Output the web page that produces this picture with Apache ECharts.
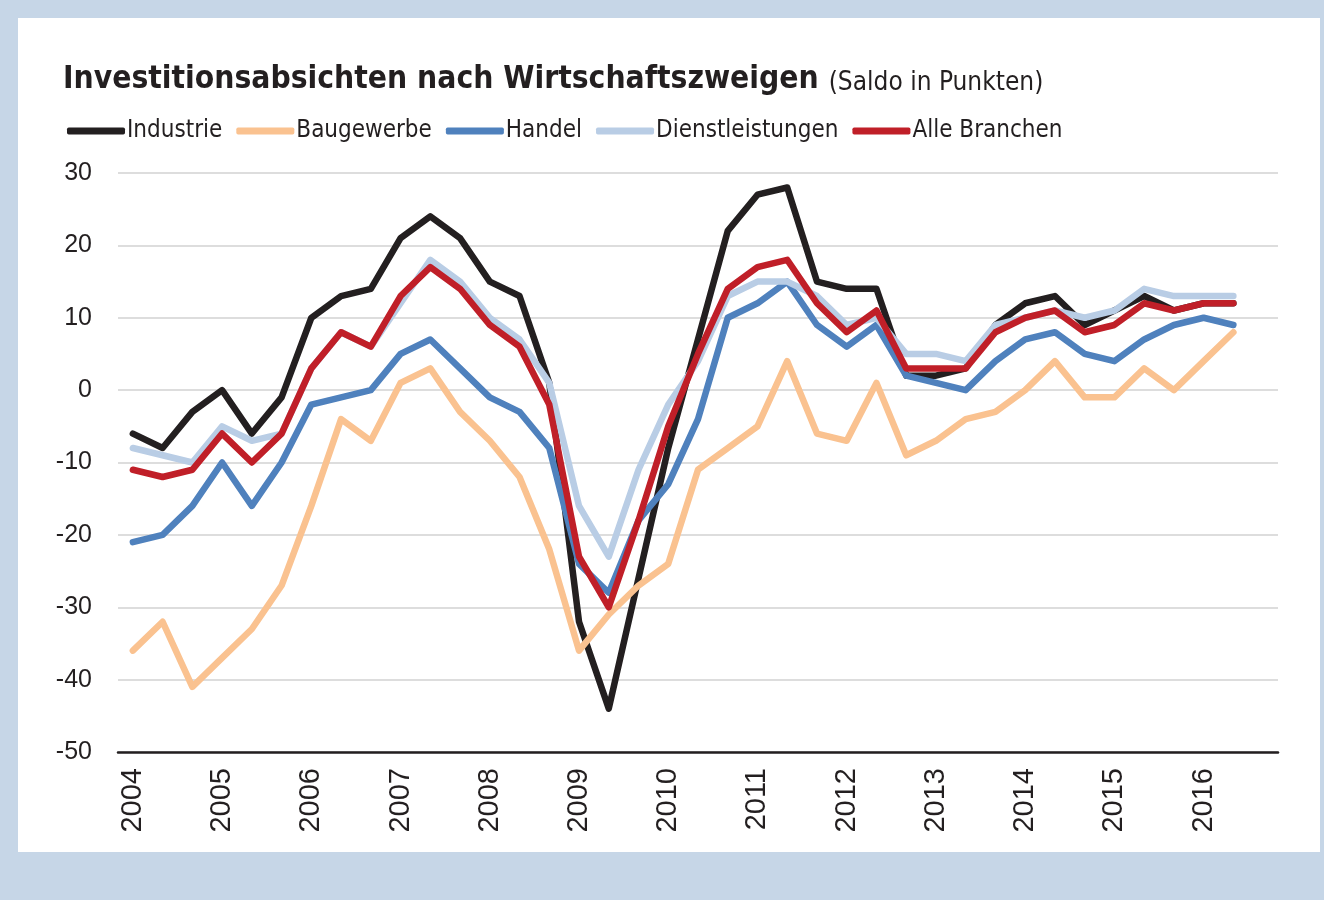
<!DOCTYPE html>
<html>
<head>
<meta charset="utf-8">
<title>Investitionsabsichten nach Wirtschaftszweigen</title>
<script src="https://cdn.jsdelivr.net/npm/echarts@6/dist/echarts.min.js"></script>
<style>
html, body {
    margin: 0;
    padding: 0;
    background: #c6d6e7;
}
#chart {
    position: absolute;
    left: 18px;
    top: 18px;
    width: 1302px;
    height: 834px;
    background: #ffffff;
}
</style>
</head>
<body>
<div id="chart"></div>
<script>
// drei Umfragen pro Jahr, 2004 bis 2016
const years = [2004, 2005, 2006, 2007, 2008, 2009, 2010, 2011, 2012, 2013, 2014, 2015, 2016];
const waves = ['I', 'II', 'III'];

const industrie = [-6, -8, -3, 0, -6, -1, 10, 13, 14, 21, 24, 21, 15, 13, 1, -32, -44, -26, -8, 7, 22, 27, 28, 15, 14, 14, 2, 2, 3, 9, 12, 13, 9, 11, 13, 11, 12, 12];
const baugewerbe = [-36, -32, -41, -37, -33, -27, -16, -4, -7, 1, 3, -3, -7, -12, -22, -36, -31, -27, -24, -11, -8, -5, 4, -6, -7, 1, -9, -7, -4, -3, 0, 4, -1, -1, 3, 0, 4, 8];
const handel = [-21, -20, -16, -10, -16, -10, -2, -1, 0, 5, 7, 3, -1, -3, -8, -24, -28, -18, -13, -4, 10, 12, 15, 9, 6, 9, 2, 1, 0, 4, 7, 8, 5, 4, 7, 9, 10, 9];
const dienstleistungen = [-8, -9, -10, -5, -7, -6, 3, 8, 6, 12, 18, 15, 10, 7, 1, -16, -23, -11, -2, 4, 13, 15, 15, 13, 9, 10, 5, 5, 4, 9, 10, 11, 10, 11, 14, 13, 13, 13];
const alleBranchen = [-11, -12, -11, -6, -10, -6, 3, 8, 6, 13, 17, 14, 9, 6, -2, -23, -30, -18, -5, 5, 14, 17, 18, 12, 8, 11, 3, 3, 3, 8, 10, 11, 8, 9, 12, 11, 12, 12];

const yTicks = [-50, -40, -30, -20, -10, 0, 10, 20, 30];

let categories = [];
years.forEach(y => {
    waves.forEach(w => categories.push(y + '/' + w));
});

const narrow = "'Liberation Sans Narrow', 'DejaVu Sans Condensed', 'Roboto', sans-serif";
const textColor = '#231f20';

let myChart = echarts.init(document.getElementById('chart'));

function line(name, data, color) {
    return {
        name: name,
        type: 'line',
        data: data,
        symbol: 'none',
        showSymbol: false,
        smooth: false,
        lineStyle: { color: color, width: 6.5, join: 'round', cap: 'round' },
        itemStyle: { color: color }
    };
}

let option = {
    animation: false,
    title: {
        left: 40,
        top: 33,
        text: '{a|Investitionsabsichten nach Wirtschaftszweigen}  {b|(Saldo in Punkten)}',
        textStyle: {
            rich: {
                a: { fontFamily: narrow, fontWeight: 'bold', fontSize: 31.5, color: textColor, lineHeight: 40, verticalAlign: 'bottom' },
                b: { fontFamily: narrow, fontWeight: 'normal', fontSize: 26, color: textColor, lineHeight: 40, verticalAlign: 'bottom' }
            }
        }
    },
    legend: {
        left: 44,
        top: 96,
        icon: 'roundRect',
        itemWidth: 58,
        itemHeight: 7,
        itemGap: 14,
        textStyle: { fontFamily: narrow, fontSize: 24, color: textColor, padding: [0, 0, 0, -3] },
        data: ['Industrie', 'Baugewerbe', 'Handel', 'Dienstleistungen', 'Alle Branchen']
    },
    grid: {
        left: 100,
        right: 42,
        top: 155,
        bottom: 100
    },
    xAxis: {
        type: 'category',
        data: categories,
        boundaryGap: true,
        axisLine: { show: true, onZero: false, lineStyle: { color: textColor, width: 2.5 } },
        axisTick: { show: false },
        axisLabel: {
            interval: function (index) { return index % 3 === 0; },
            rotate: 90,
            margin: 16,
            fontFamily: "'Liberation Sans', Arial, sans-serif",
            fontSize: 29,
            color: textColor,
            formatter: function (v) { return v.split('/')[0]; }
        },
        splitLine: { show: false }
    },
    yAxis: {
        type: 'value',
        min: yTicks[0],
        max: yTicks[yTicks.length - 1],
        interval: 10,
        axisLine: { show: false },
        axisTick: { show: false },
        axisLabel: {
            margin: 26,
            fontFamily: "'Liberation Sans', Arial, sans-serif",
            fontSize: 25,
            color: textColor
        },
        splitLine: { lineStyle: { color: '#d2d2d2', width: 1.5 } }
    },
    series: [
        line('Industrie', industrie, '#231f20'),
        line('Baugewerbe', baugewerbe, '#fac290'),
        line('Handel', handel, '#4f81bd'),
        line('Dienstleistungen', dienstleistungen, '#b9cde5'),
        line('Alle Branchen', alleBranchen, '#c01f28')
    ]
};

myChart.setOption(option);
</script>
</body>
</html>
